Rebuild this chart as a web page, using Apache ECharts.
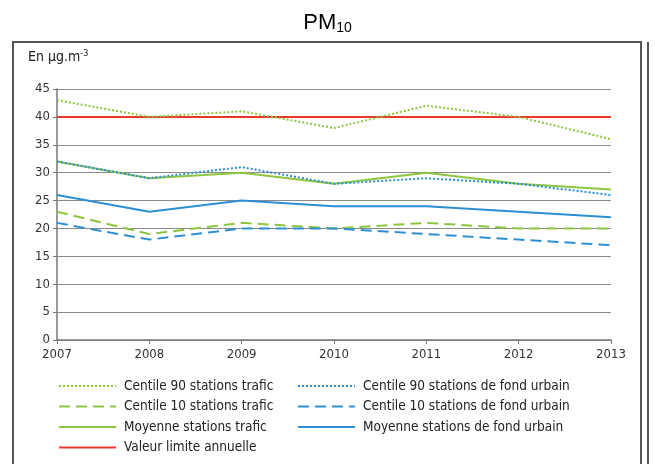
<!DOCTYPE html>
<html>
<head>
<meta charset="utf-8">
<script src="https://cdn.jsdelivr.net/npm/echarts@6/dist/echarts.min.js"></script>
<style>
  html, body { margin: 0; padding: 0; background: #fff; }
  #chart { width: 655px; height: 464px; }
</style>
</head>
<body>
<div id="chart"></div>
<script>
// années
var years = ['2007', '2008', '2009', '2010', '2011', '2012', '2013'];
// séries (µg/m3)
var c90Trafic = [43, 40, 41, 38, 42, 40, 36];
var c10Trafic = [23, 19, 21, 20, 21, 20, 20];
var moyTrafic = [32, 29, 30, 28, 30, 28, 27];
var c90Fond = [32, 29, 31, 28, 29, 28, 26];
var c10Fond = [21, 18, 20, 20, 19, 18, 17];
var moyFond = [26, 23, 25, 24, 24, 23, 22];
var valeurLimite = [40, 40, 40, 40, 40, 40, 40];

var GREEN = '#8cc63e';
var BLUE = '#2b8fd3';
var RED = '#e8382e';
var FONT = '"DejaVu Sans Condensed", sans-serif';

const myEcharts = echarts.init(document.getElementById('chart'));

function serie(name, data, color, type, z) {
  return {
    name: name,
    type: 'line',
    data: data,
    symbol: 'none',
    z: z,
    lineStyle: { color: color, width: 2, type: type },
    itemStyle: { color: color }
  };
}

function legende(names, left, top) {
  return {
    orient: 'vertical',
    left: left,
    top: top,
    padding: 0,
    data: names,
    itemWidth: 57,
    itemHeight: 12,
    itemGap: 6.5,
    itemStyle: { opacity: 0 },
    textStyle: { color: '#222', fontSize: 13.5, fontFamily: FONT, padding: [0, 0, 0, 3] },
    selectedMode: false
  };
}

const options = {
  animation: false,
  grid: { left: 57, right: 44, top: 89, bottom: 124 },
  graphic: [
    {
      type: 'text', left: 'center', top: 12,
      style: {
        text: 'PM{s|10}',
        fill: '#000', font: '22px "Liberation Sans", Arial, sans-serif',
        rich: { s: { fontSize: 14, fontFamily: '"Liberation Sans", Arial', padding: [10, 0, 0, 0] } }
      }
    },
    {
      type: 'rect', shape: { x: 13, y: 42, width: 628, height: 440 },
      style: { fill: 'none', stroke: '#555', lineWidth: 2 }
    },
    {
      type: 'line', shape: { x1: 648, y1: 42, x2: 648, y2: 470 },
      style: { stroke: '#555', lineWidth: 2 }
    },
    {
      type: 'text', left: 28, top: 49,
      style: {
        text: 'En µg.m{sup|-3}',
        fill: '#222', font: '14px ' + FONT,
        rich: { sup: { fontSize: 9, fontFamily: FONT, padding: [0, 0, 7, 0] } }
      }
    }
  ],
  legend: [
    legende(['Centile 90 stations trafic', 'Centile 10 stations trafic', 'Moyenne stations trafic', 'Valeur limite annuelle'], 58, 379),
    legende(['Centile 90 stations de fond urbain', 'Centile 10 stations de fond urbain', 'Moyenne stations de fond urbain'], 297, 379)
  ],
  xAxis: {
    type: 'category',
    data: years,
    boundaryGap: false,
    axisLine: { lineStyle: { color: '#777', width: 1.5 } },
    axisTick: { show: true, length: 4, lineStyle: { color: '#777' } },
    axisLabel: { color: '#333', fontSize: 13, fontFamily: FONT, margin: 8 },
    splitLine: { show: false }
  },
  yAxis: {
    type: 'value',
    min: 0, max: 45, interval: 5,
    axisLine: { show: true, lineStyle: { color: '#777', width: 1.5 } },
    axisTick: { show: true, length: 4, lineStyle: { color: '#777' } },
    axisLabel: { color: '#333', fontSize: 13, fontFamily: FONT, margin: 7 },
    splitLine: { show: true, lineStyle: { color: '#8a8a8a', width: 1.2 } }
  },
  series: [
    serie('Centile 90 stations trafic', c90Trafic, GREEN, [2, 2], 3),
    serie('Centile 10 stations trafic', c10Trafic, GREEN, [11, 6], 3),
    serie('Moyenne stations trafic', moyTrafic, GREEN, 'solid', 3),
    serie('Valeur limite annuelle', valeurLimite, RED, 'solid', 2),
    serie('Centile 90 stations de fond urbain', c90Fond, BLUE, [2, 2], 4),
    serie('Centile 10 stations de fond urbain', c10Fond, BLUE, [11, 6], 4),
    serie('Moyenne stations de fond urbain', moyFond, BLUE, 'solid', 4)
  ]
};
myEcharts.setOption(options, true);
</script>
</body>
</html>
